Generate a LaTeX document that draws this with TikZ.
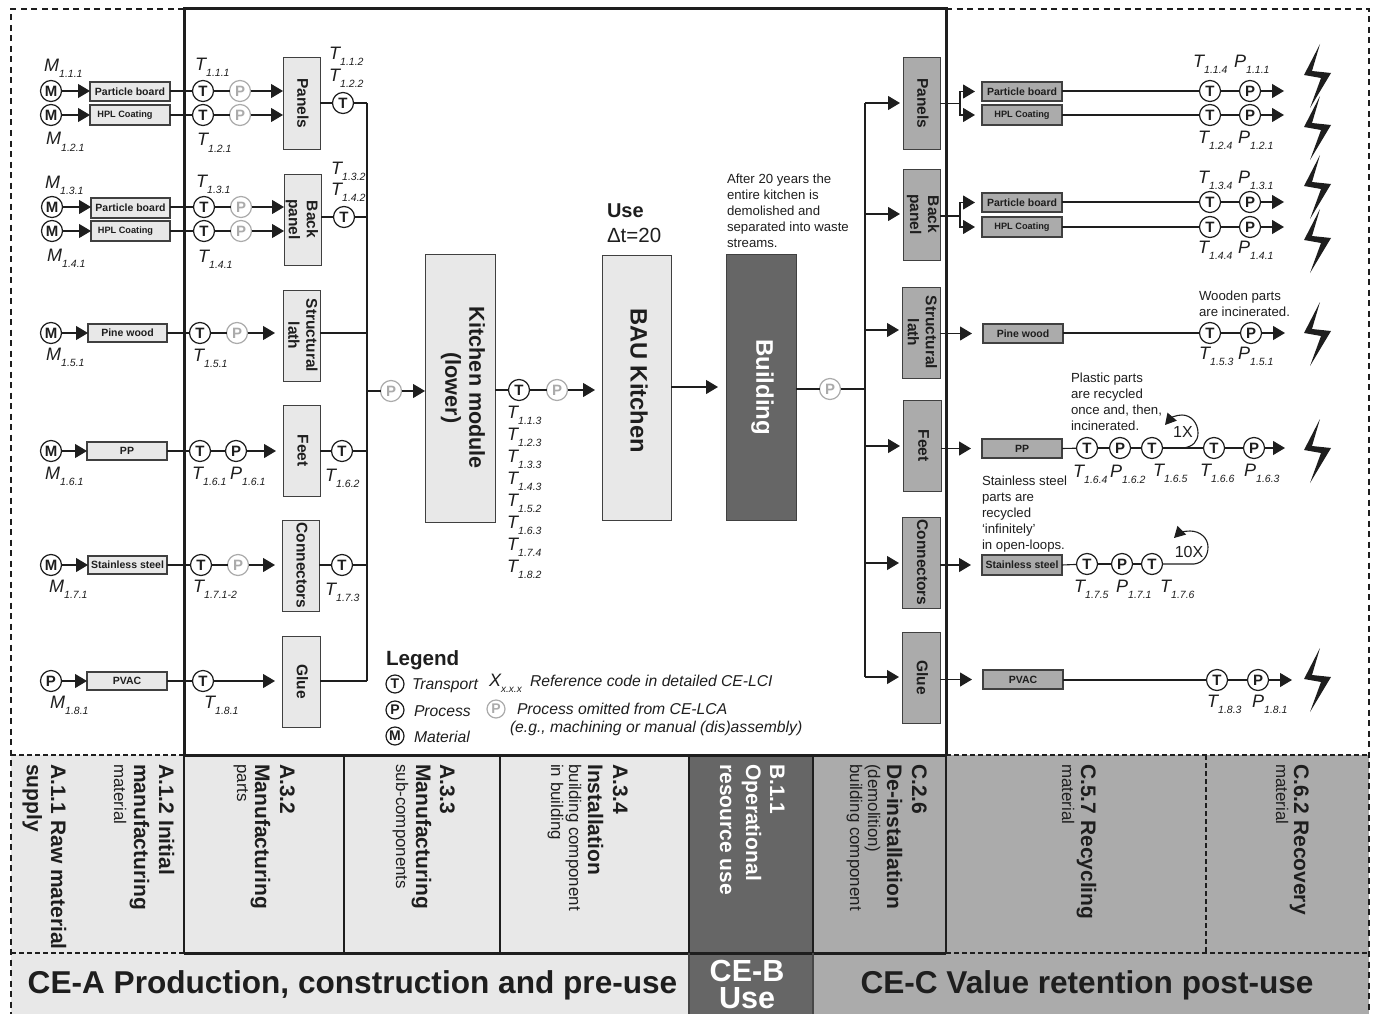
\documentclass[tikz,border=0pt]{standalone}
\usepackage{fontspec}
\setmainfont{Liberation Sans}
\usetikzlibrary{arrows.meta,calc}
\definecolor{lt}{HTML}{E8E8E8}
\definecolor{md}{HTML}{ABABAB}
\definecolor{dk}{HTML}{666666}
\definecolor{ink}{HTML}{1E1E1E}
\definecolor{omit}{HTML}{ABABAB}
\newcommand{\fz}[1]{\fontsize{#1}{#1}\selectfont}
\newcommand{\fzl}[2]{\fontsize{#1}{#2}\selectfont}
\newcount\labn
\newcommand{\nextlab}{\global\advance\labn by 1 }
% circles
\newcommand{\nd}[5]{\node[#1] (#2) at (#3,#4) {#5};}
% boxes: style,name,x1,y1,x2,y2,textstyle,text
\newcommand{\bx}[8]{%
  \pgfmathsetmacro{\cxx}{(#3+#5)/2}%
  \pgfmathsetmacro{\cyy}{(#4+#6)/2}%
  \pgfmathsetmacro{\wdd}{#5-#3}%
  \pgfmathsetmacro{\htt}{#6-#4}%
  \node[#1,minimum width=\wdd pt,minimum height=\htt pt] (#2) at (\cxx,\cyy) {};
  \node[#7] (#2-t) at (#2) {#8};}
% code labels: x,y baseline, letter, subscript
\newcommand{\lb}[4]{\nextlab
  \node[anchor=base west,inner sep=0pt,text=ink] (lab\the\labn) at (#1,#2)
   {\fz{18}\itshape #3\raisebox{-6pt}{\fz{10.5}\itshape #4}};}
% rotated section text
\newcommand{\rl}[3]{\nextlab
  \node[rotate=-90,anchor=base west,inner sep=0pt,#3] (rot\the\labn) at (#1,764) {#2};}
\tikzset{
  base/.style={inner sep=0pt,outer sep=0pt},
  cn/.style={base,circle,draw=ink,line width=1.2pt,fill=white,minimum size=21pt,text=ink,font=\fz{15}\bfseries},
  cg/.style={cn,draw=omit,text=omit},
  cl/.style={cn,minimum size=18pt,font=\fz{14}\bfseries},
  cgl/.style={cl,draw=omit,text=omit},
  lightbox/.style={base,draw=ink!85,line width=1pt,fill=lt},
  midbox/.style={base,draw=ink!85,line width=1pt,fill=md},
  darkbox/.style={base,draw=ink!85,line width=1pt,fill=dk},
  smallbox/.style={lightbox,line width=1.1pt},
  smallmid/.style={midbox,line width=1.3pt},
  pb/.style={base,text=ink,font=\fz{10.5}\bfseries},
  hp/.style={base,text=ink,font=\fz{9.2}\bfseries},
  hpl/.style={hp,xshift=-5pt},
  comp/.style={base,xshift=1.5pt,rotate=-90,align=center,text=ink,font=\fzl{15.5}{18}\bfseries},
  compl/.style={base,xshift=-0.5pt,rotate=-90,align=center,text=ink,font=\fzl{15.5}{18}\bfseries},
  wire/.style={draw=ink,line width=1.1pt},
  arr/.style={wire,-{Triangle[length=12pt,width=14pt]}},
  note/.style={base,anchor=west,align=left,text=ink,font=\fzl{13.2}{16}},
  leg/.style={base,anchor=west,text=ink,font=\fz{15.7}\itshape},
  bolt/.style={fill=ink,draw=none},
  dashline/.style={draw=ink,line width=2.4pt,dash pattern=on 6pt off 4.5pt},
  dashthin/.style={draw=ink,line width=2pt,dash pattern=on 4.5pt off 3.5pt},
  frame/.style={draw=ink,line width=3pt},
  sect/.style={draw=ink,line width=2.2pt},
  sb/.style={text=ink,font=\fz{21}\bfseries},
  ss/.style={text=ink,font=\fz{16.9}},
  wb/.style={text=white,font=\fz{21}\bfseries},
  ttl/.style={base,text=ink,font=\fz{31.6}\bfseries},
}
\newcommand{\boltat}[2]{\path[bolt] (#1+3,#2-32) -- (#1-13,#2-1) -- (#1+4,#2+2) -- (#1-7,#2+32) -- (#1+14,#2-3) -- (#1-5,#2-5) -- cycle;}
\begin{document}
\begin{tikzpicture}[x=1pt,y=-1pt]
\useasboundingbox (0,0) rectangle (1378,1014);
% ---- bottom bands
\fill[lt] (11,755) rectangle (689,1014);
\fill[dk] (689,755) rectangle (813,1014);
\fill[md] (813,755) rectangle (1369,1014);
% ---- frames
\draw[dashline] (184,9) -- (11,9) -- (11,1014);
\draw[dashline] (946,9) -- (1369,9) -- (1369,1014);
\draw[dashthin] (11,755) -- (184,755);
\draw[dashthin] (11,953) -- (184,953);
\draw[dashthin] (946,755) -- (1369,755);
\draw[dashthin] (946,953) -- (1369,953);
\draw[dashthin] (1206,755) -- (1206,953);
\draw[frame] (184,755) -- (184,9) -- (946,9) -- (946,755);
\draw[frame] (184,755) -- (946,755);
\draw[frame] (184,953) -- (946,953);
\foreach \xx in {184,344,500,689,813,946} \draw[sect] (\xx,755) -- (\xx,953);
\draw[draw=dk!70!black,line width=1.5pt] (689,953) -- (689,1014) (813,953) -- (813,1014);
% ---- left: component boxes
\bx{lightbox}{panels}{283}{58}{320}{149}{comp}{Panels}
\bx{lightbox}{back}{284}{174}{321}{265}{compl}{Back\\panel}
\bx{lightbox}{lath}{283}{290}{320}{381}{comp}{Structural\\lath}
\bx{lightbox}{feet}{283}{405}{320}{496}{comp}{Feet}
\bx{lightbox}{conn}{282}{520}{319}{611}{comp}{Connectors}
\bx{lightbox}{glue}{282}{636}{320}{727}{comp}{Glue}
% ---- left: material boxes
\bx{smallbox}{pb1}{90}{82}{170}{101}{pb}{Particle board}
\bx{smallbox}{hp1}{90}{105}{170}{125}{hpl}{HPL Coating}
\bx{smallbox}{pb2}{91}{198}{170}{218}{pb}{Particle board}
\bx{smallbox}{hp2}{91}{221}{170}{241}{hpl}{HPL Coating}
\bx{smallbox}{pine}{88}{324}{167}{342}{pb}{Pine wood}
\bx{smallbox}{pp}{87}{442}{167}{460}{pb}{PP}
\bx{smallbox}{ss}{88}{556}{167}{574}{pb}{Stainless steel}
\bx{smallbox}{pvac}{87}{672}{167}{690}{pb}{PVAC}
% ---- left: circles
\nd{cn}{m1}{51}{91}{M} \nd{cn}{m2}{51}{115}{M} \nd{cn}{m3}{52}{207}{M} \nd{cn}{m4}{52}{231}{M}
\nd{cn}{m5}{51}{333}{M} \nd{cn}{m6}{51}{451}{M} \nd{cn}{m7}{51}{565}{M} \nd{cn}{m8}{51}{681}{P}
\nd{cn}{t1}{203}{91}{T} \nd{cn}{t2}{203}{115}{T} \nd{cn}{t3}{204}{207}{T} \nd{cn}{t4}{204}{231}{T}
\nd{cn}{t5}{200}{333}{T} \nd{cn}{t6}{200}{451}{T} \nd{cn}{t7}{201}{565}{T} \nd{cn}{t8}{203}{681}{T}
\nd{cg}{p1}{240}{91}{P} \nd{cg}{p2}{240}{115}{P} \nd{cg}{p3}{241}{207}{P} \nd{cg}{p4}{241}{231}{P}
\nd{cg}{p5}{237}{333}{P} \nd{cn}{p6}{236}{451}{P} \nd{cg}{p7}{238}{565}{P}
\nd{cn}{tpan}{343}{103}{T} \nd{cn}{tbak}{344}{217}{T} \nd{cn}{tfee}{342}{451}{T} \nd{cn}{tcon}{342}{565}{T}
\coordinate (b1) at (367,103); \coordinate (b2) at (367,217); \coordinate (b3) at (367,333);
\coordinate (b4) at (367,451); \coordinate (b5) at (367,565); \coordinate (b6) at (367,681);
\coordinate (b7) at (367,391);
% ---- left: wires
\foreach \m/\b/\t/\p/\c/\g in {m1/pb1/t1/p1/panels/0,m2/hp1/t2/p2/panels/0,m3/pb2/t3/p3/back/0,m4/hp2/t4/p4/back/0,m5/pine/t5/p5/lath/8,m6/pp/t6/p6/feet/7,m7/ss/t7/p7/conn/7}{
  \draw[arr] (\m) -- (\m -| \b.west);
  \draw[wire] (\m -| \b.east) -- (\t);
  \draw[wire] (\t) -- (\p);
  \draw[arr,shorten >=\g pt] (\p) -- (\p -| \c.west);
}
\draw[arr] (m8) -- (m8 -| pvac.west);
\draw[wire] (m8 -| pvac.east) -- (t8);
\draw[arr,shorten >=7pt] (t8) -- (t8 -| glue.west);
\draw[wire] (tpan -| panels.east) -- (tpan); \draw[wire] (tpan) -- (b1);
\draw[wire] (tbak -| back.east) -- (tbak); \draw[wire] (tbak) -- (b2);
\draw[wire] (b3 -| lath.east) -- (b3);
\draw[wire] (tfee -| feet.east) -- (tfee); \draw[wire] (tfee) -- (b4);
\draw[wire] (tcon -| conn.east) -- (tcon); \draw[wire] (tcon) -- (b5);
\draw[wire] (b6 -| glue.east) -- (b6);
\draw[wire] (b1) -- (b6);
% ---- centre
\bx{lightbox}{kit}{425}{254}{495}{522}{base,xshift=3pt,rotate=-90,align=center,text=ink,font=\fzl{21.6}{24}\bfseries}{Kitchen module\\(lower)}
\bx{lightbox}{bau}{602}{255}{671}{520}{base,xshift=2.5pt,yshift=7pt,rotate=-90,text=ink,font=\fz{23.7}\bfseries}{BAU Kitchen}
\bx{darkbox}{bld}{726}{254}{796}{520}{base,xshift=1.5pt,rotate=-90,text=white,font=\fz{24}\bfseries}{Building}
\nd{cg}{pk}{391}{391}{P}
\nd{cn}{tk}{519}{390}{T}
\nd{cg}{pm}{557}{390}{P}
\nd{cg}{pb}{830}{389}{P}
\draw[wire] (b7) -- (pk);
\draw[arr] (pk) -- (pk -| kit.west);
\draw[wire] (tk -| kit.east) -- (tk);
\draw[wire] (tk) -- (pm);
\draw[arr,shorten >=7pt] (pm) -- (pm -| bau.west);
\coordinate (mid) at (700,387);
\draw[arr,shorten >=8pt] (mid -| bau.east) -- (mid -| bld.west);
\coordinate (r0) at (865,389);
\draw[wire] (pb -| bld.east) -- (pb);
\draw[wire] (pb) -- (r0);
\node[base,anchor=west,text=ink,font=\fz{20}\bfseries] (use) at (607,211) {Use};
\node[base,anchor=west,text=ink,font=\fz{20.5}] (dt) at (607,235) {Δt=20};
\node[note] (after) at (727,211) {After 20 years the\\entire kitchen is\\demolished and\\separated into waste\\streams.};
% ---- right boxes
\bx{midbox}{rpan}{903}{58}{940}{149}{comp}{Panels}
\bx{midbox}{rbak}{903}{169}{940}{260}{comp}{Back\\panel}
\bx{midbox}{rlat}{902}{287}{940}{378}{comp}{Structural\\lath}
\bx{midbox}{rfee}{903}{400}{941}{491}{comp}{Feet}
\bx{midbox}{rcon}{902}{517}{940}{608}{comp}{Connectors}
\bx{midbox}{rglu}{902}{632}{940}{723}{comp}{Glue}
\coordinate (r1) at (865,103); \coordinate (r2) at (865,214); \coordinate (r3) at (865,330);
\coordinate (r4) at (865,446); \coordinate (r5) at (865,563); \coordinate (r6) at (865,677);
\draw[wire] (r1) -- (r6);
\foreach \a/\b in {r1/rpan,r2/rbak,r3/rlat,r4/rfee,r5/rcon,r6/rglu} \draw[arr,shorten >=3pt] (\a) -- (\a -| \b.west);
% material boxes right
\bx{smallmid}{rpb1}{982}{82}{1062}{101}{pb}{Particle board}
\bx{smallmid}{rhp1}{982}{105}{1062}{125}{hp}{HPL Coating}
\bx{smallmid}{rpb2}{982}{193}{1062}{212}{pb}{Particle board}
\bx{smallmid}{rhp2}{982}{217}{1062}{237}{hp}{HPL Coating}
\bx{smallmid}{rpin}{983}{324}{1063}{343}{pb}{Pine wood}
\bx{smallmid}{rpp}{982}{439}{1062}{458}{pb}{PP}
\bx{smallmid}{rss}{982}{555}{1062}{575}{pb}{Stainless steel}
\bx{smallmid}{rpv}{983}{670}{1063}{689}{pb}{PVAC}
% branches
\coordinate (f1) at (960,103.5); \coordinate (f2) at (960,216);
\draw[wire] (rpan.east |- f1) -- (f1);
\draw[wire] (rbak.east |- f2) -- (f2);
\draw[arr,shorten >=7pt] (f1) |- (rpb1.west);
\draw[arr,shorten >=7pt] (f1) |- (rhp1.west);
\draw[arr,shorten >=7pt] (f2) |- (rpb2.west);
\draw[arr,shorten >=7pt] (f2) |- (rhp2.west);
\draw[arr,shorten >=11pt] (rlat.east |- rpin) -- (rpin.west);
\draw[arr,shorten >=11pt] (rfee.east |- rpp) -- (rpp.west);
\draw[arr,shorten >=11pt] (rcon.east |- rss) -- (rss.west);
\draw[arr,shorten >=11pt] (rglu.east |- rpv) -- (rpv.west);
% right chains
\nd{cn}{at1}{1210}{91}{T} \nd{cn}{ap1}{1250}{91}{P}
\nd{cn}{at2}{1210}{115}{T} \nd{cn}{ap2}{1250}{115}{P}
\nd{cn}{at3}{1210}{202}{T} \nd{cn}{ap3}{1250}{202}{P}
\nd{cn}{at4}{1210}{227}{T} \nd{cn}{ap4}{1250}{227}{P}
\nd{cn}{at5}{1210}{333}{T} \nd{cn}{ap5}{1251}{333}{P}
\nd{cn}{at6}{1087}{448}{T} \nd{cn}{ap6}{1120}{448}{P} \nd{cn}{at7}{1152}{448}{T} \nd{cn}{at8}{1214}{448}{T} \nd{cn}{ap8}{1254}{448}{P}
\nd{cn}{at9}{1087}{564}{T} \nd{cn}{ap9}{1122}{564}{P} \nd{cn}{at10}{1152}{564}{T}
\nd{cn}{at11}{1217}{680}{T} \nd{cn}{ap11}{1258}{680}{P}
\foreach \b/\t/\p in {rpb1/at1/ap1,rhp1/at2/ap2,rpb2/at3/ap3,rhp2/at4/ap4,rpin/at5/ap5,rpv/at11/ap11}{
  \draw[wire] (\b.east |- \t) -- (\t);
  \draw[wire] (\t) -- (\p);
  \draw[arr] (\p) -- ++(34,0);
}
\draw[wire] (rpp.east) -- (at6);
\draw[wire] (at6) -- (ap6);
\draw[wire] (ap6) -- (at7);
\draw[wire] (at7) -- (at8);
\draw[wire] (at8) -- (ap8);
\draw[arr] (ap8) -- ++(31,0);
\draw[wire] (rss.east) -- (at9);
\draw[wire] (at9) -- (ap9);
\draw[wire] (ap9) -- (at10);
\draw[wire,-{Triangle[length=11pt,width=12pt]}] (1183,448) .. controls (1193,447) and (1198,441) .. (1198,433) .. controls (1198,423) and (1191,415) .. (1182,415) .. controls (1176,415) and (1171,418) .. (1165,425);
\draw[wire,-{Triangle[length=11pt,width=12pt]}] (at10) -- (1194,564) .. controls (1203,563) and (1208,556) .. (1208,547) .. controls (1208,538) and (1200,531) .. (1190,531) .. controls (1184,531) and (1179,533) .. (1174,538);
\node[base,text=ink,font=\fz{16}] (onex) at (1183,432) {1X};
\node[base,text=ink,font=\fz{16}] (tenx) at (1189,552) {10X};
% bolts
\boltat{1317}{76} \boltat{1317}{128} \boltat{1317}{187} \boltat{1317}{241}
\boltat{1317}{334} \boltat{1317}{451} \boltat{1317}{680}
% notes
\node[note] (wood) at (1199,304) {Wooden parts\\are incinerated.};
\node[note] (plast) at (1071,402) {Plastic parts\\are recycled\\once and, then,\\incinerated.};
\node[note] (stain) at (982,514) {Stainless steel\\parts are\\recycled\\‘infinitely’\\in open-loops.};
% ---- code labels
\lb{44}{72}{M}{1.1.1} \lb{46}{145}{M}{1.2.1} \lb{195}{71}{T}{1.1.1} \lb{197}{146}{T}{1.2.1}
\lb{329}{60}{T}{1.1.2} \lb{329}{82}{T}{1.2.2}
\lb{45}{188}{M}{1.3.1} \lb{47}{261}{M}{1.4.1} \lb{196}{187}{T}{1.3.1} \lb{198}{262}{T}{1.4.1}
\lb{331}{174}{T}{1.3.2} \lb{331}{195}{T}{1.4.2}
\lb{46}{360}{M}{1.5.1} \lb{193}{361}{T}{1.5.1}
\lb{45}{479}{M}{1.6.1} \lb{192}{479}{T}{1.6.1} \lb{230}{479}{P}{1.6.1} \lb{325}{481}{T}{1.6.2}
\lb{49}{592}{M}{1.7.1} \lb{193}{592}{T}{1.7.1-2} \lb{325}{595}{T}{1.7.3}
\lb{50}{708}{M}{1.8.1} \lb{204}{708}{T}{1.8.1}
\lb{507}{418}{T}{1.1.3} \lb{507}{440}{T}{1.2.3} \lb{507}{462}{T}{1.3.3} \lb{507}{484}{T}{1.4.3}
\lb{507}{506}{T}{1.5.2} \lb{507}{528}{T}{1.6.3} \lb{507}{550}{T}{1.7.4} \lb{507}{572}{T}{1.8.2}
\lb{1193}{68}{T}{1.1.4} \lb{1234}{68}{P}{1.1.1} \lb{1198}{143}{T}{1.2.4} \lb{1238}{143}{P}{1.2.1}
\lb{1198}{183}{T}{1.3.4} \lb{1238}{183}{P}{1.3.1} \lb{1198}{253}{T}{1.4.4} \lb{1238}{253}{P}{1.4.1}
\lb{1199}{359}{T}{1.5.3} \lb{1238}{359}{P}{1.5.1}
\lb{1073}{477}{T}{1.6.4} \lb{1110}{477}{P}{1.6.2} \lb{1153}{476}{T}{1.6.5} \lb{1200}{476}{T}{1.6.6} \lb{1244}{476}{P}{1.6.3}
\lb{1074}{592}{T}{1.7.5} \lb{1116}{592}{P}{1.7.1} \lb{1160}{592}{T}{1.7.6}
\lb{1207}{707}{T}{1.8.3} \lb{1252}{707}{P}{1.8.1}
% ---- legend
\node[base,anchor=west,text=ink,font=\fz{20.6}\bfseries] (legend) at (386,660) {Legend};
\nd{cl}{lt1}{395}{684}{T} \nd{cl}{lp1}{395}{710}{P} \nd{cl}{lm1}{395}{736}{M}
\node[leg] (ltt) at (412,686) {Transport};
\node[leg] (lpt) at (414,711) {Process};
\node[leg] (lmt) at (414,737) {Material};
\node[anchor=base west,inner sep=0pt,text=ink] (lx) at (489,686) {\fz{18}\itshape X\raisebox{-6pt}{\fz{10}\itshape x.x.x}};
\node[leg] (lrc) at (530,681) {Reference code in detailed CE-LCI};
\nd{cgl}{lpg}{496}{709}{P}
\node[leg] (lom) at (517,709) {Process omitted from CE-LCA};
\node[leg] (leg2) at (510,728) {(e.g., machining or manual (dis)assembly)};
% ---- section text
\rl{51}{A.1.1 Raw material}{sb} \rl{27}{supply}{sb}
\rl{159}{A.1.2 Initial}{sb} \rl{134}{manufacturing}{sb} \rl{114}{material}{ss}
\rl{280}{A.3.2}{sb} \rl{255}{Manufacturing}{sb} \rl{237}{parts}{ss}
\rl{440}{A.3.3}{sb} \rl{416}{Manufacturing}{sb} \rl{396}{sub-components}{ss}
\rl{613}{A.3.4}{sb} \rl{588}{Installation}{sb} \rl{569}{building component}{ss} \rl{551}{in building}{ss}
\rl{770}{B.1.1}{wb} \rl{746}{Operational}{wb} \rl{720}{resource use}{wb}
\rl{912}{C.2.6}{sb} \rl{887}{De-installation}{sb} \rl{868}{(demolition)}{ss} \rl{850}{building component}{ss}
\rl{1081}{C.5.7 Recycling}{sb} \rl{1062}{material}{ss}
\rl{1294}{C.6.2 Recovery}{sb} \rl{1276}{material}{ss}
% ---- titles
\node[ttl] (cea) at (352.5,985) {CE-A Production, construction and pre-use};
\node[ttl,text=white,font=\fz{30.5}\bfseries] (ceb1) at (747,971) {CE-B};
\node[ttl,text=white,font=\fz{30.5}\bfseries] (ceb2) at (747,998) {Use};
\node[ttl] (cec) at (1087,985) {CE-C Value retention post-use};
\end{tikzpicture}
\end{document}
